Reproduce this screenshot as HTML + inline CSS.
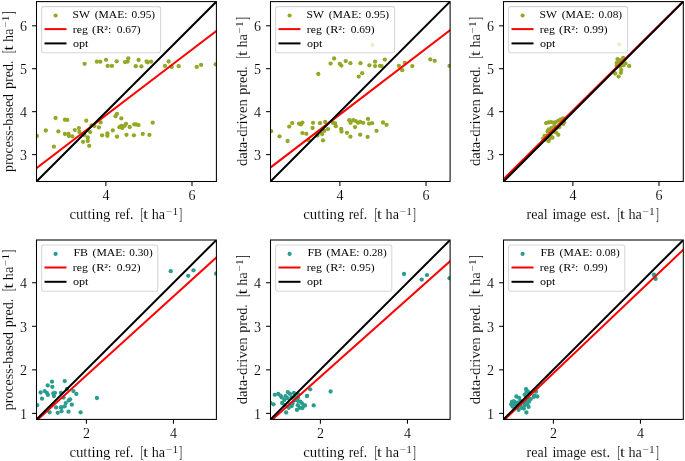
<!DOCTYPE html>
<html><head><meta charset="utf-8"><style>
html,body{margin:0;padding:0;background:#fff;width:685px;height:461px;overflow:hidden}
svg text{font-family:"Liberation Serif", serif;fill:#000;stroke:#fff;stroke-width:0.1px;paint-order:fill stroke}
svg{will-change:transform}
svg text.lg{stroke:none}
</style></head><body>
<svg width="685" height="461" viewBox="0 0 685 461" style="position:absolute;left:0;top:0">
<defs>
<clipPath id="c00"><rect x="36.5" y="1.6" width="179.90" height="179.90"/></clipPath>
<clipPath id="c01"><rect x="270.5" y="1.6" width="179.60" height="179.90"/></clipPath>
<clipPath id="c02"><rect x="503.5" y="1.6" width="179.80" height="179.90"/></clipPath>
<clipPath id="c10"><rect x="36.5" y="240.0" width="179.90" height="179.40"/></clipPath>
<clipPath id="c11"><rect x="270.5" y="240.0" width="179.60" height="179.40"/></clipPath>
<clipPath id="c12"><rect x="503.5" y="240.0" width="179.80" height="179.40"/></clipPath>
</defs>
<rect width="685" height="461" fill="#fff"/>
<g><g clip-path="url(#c00)" fill="#94a726"><circle cx="36.9" cy="135.9" r="2.15"/><circle cx="55.6" cy="118.0" r="2.15"/><circle cx="64.9" cy="119.7" r="2.15"/><circle cx="67.3" cy="119.9" r="2.15"/><circle cx="45.8" cy="130.5" r="2.15"/><circle cx="58.4" cy="131.4" r="2.15"/><circle cx="74.8" cy="130.1" r="2.15"/><circle cx="64.9" cy="134.0" r="2.15"/><circle cx="68.5" cy="134.0" r="2.15"/><circle cx="68.9" cy="136.0" r="2.15"/><circle cx="72.4" cy="136.4" r="2.15"/><circle cx="53.9" cy="146.7" r="2.15"/><circle cx="86.3" cy="120.7" r="2.15"/><circle cx="78.9" cy="128.1" r="2.15"/><circle cx="79.4" cy="132.0" r="2.15"/><circle cx="90.1" cy="132.1" r="2.15"/><circle cx="91.6" cy="125.3" r="2.15"/><circle cx="94.4" cy="126.0" r="2.15"/><circle cx="100.6" cy="122.4" r="2.15"/><circle cx="98.9" cy="127.4" r="2.15"/><circle cx="84.4" cy="135.0" r="2.15"/><circle cx="87.8" cy="137.5" r="2.15"/><circle cx="87.8" cy="141.0" r="2.15"/><circle cx="83.0" cy="141.8" r="2.15"/><circle cx="89.2" cy="145.8" r="2.15"/><circle cx="102.1" cy="135.3" r="2.15"/><circle cx="107.4" cy="133.4" r="2.15"/><circle cx="107.4" cy="135.8" r="2.15"/><circle cx="112.8" cy="130.4" r="2.15"/><circle cx="117.0" cy="113.8" r="2.15"/><circle cx="115.5" cy="116.2" r="2.15"/><circle cx="121.3" cy="118.4" r="2.15"/><circle cx="126.0" cy="123.8" r="2.15"/><circle cx="124.6" cy="125.8" r="2.15"/><circle cx="121.3" cy="125.8" r="2.15"/><circle cx="119.4" cy="127.2" r="2.15"/><circle cx="122.2" cy="128.1" r="2.15"/><circle cx="129.7" cy="127.0" r="2.15"/><circle cx="134.2" cy="124.3" r="2.15"/><circle cx="136.1" cy="124.5" r="2.15"/><circle cx="138.5" cy="125.1" r="2.15"/><circle cx="117.0" cy="136.7" r="2.15"/><circle cx="126.5" cy="134.8" r="2.15"/><circle cx="133.9" cy="135.3" r="2.15"/><circle cx="142.8" cy="133.9" r="2.15"/><circle cx="152.7" cy="122.7" r="2.15"/><circle cx="149.4" cy="134.9" r="2.15"/><circle cx="84.6" cy="63.8" r="2.15"/><circle cx="96.9" cy="61.7" r="2.15"/><circle cx="100.3" cy="61.7" r="2.15"/><circle cx="106.0" cy="59.8" r="2.15"/><circle cx="107.7" cy="65.9" r="2.15"/><circle cx="111.9" cy="65.9" r="2.15"/><circle cx="116.7" cy="61.3" r="2.15"/><circle cx="125.0" cy="62.1" r="2.15"/><circle cx="128.3" cy="58.3" r="2.15"/><circle cx="127.6" cy="61.5" r="2.15"/><circle cx="138.6" cy="60.0" r="2.15"/><circle cx="135.8" cy="66.2" r="2.15"/><circle cx="141.4" cy="66.4" r="2.15"/><circle cx="146.6" cy="61.5" r="2.15"/><circle cx="147.7" cy="62.3" r="2.15"/><circle cx="151.1" cy="61.7" r="2.15"/><circle cx="165.0" cy="65.9" r="2.15"/><circle cx="168.6" cy="61.5" r="2.15"/><circle cx="171.7" cy="66.9" r="2.15"/><circle cx="178.7" cy="66.2" r="2.15"/><circle cx="196.7" cy="66.9" r="2.15"/><circle cx="201.1" cy="64.9" r="2.15"/><circle cx="215.7" cy="64.3" r="2.15"/></g><g clip-path="url(#c00)"><line x1="34.50" y1="169.63" x2="218.40" y2="29.37" stroke="#ff0000" stroke-width="2.0"/><line x1="34.50" y1="183.50" x2="218.40" y2="-0.40" stroke="#000" stroke-width="2.0"/></g><rect x="36.5" y="1.6" width="179.90" height="179.90" fill="none" stroke="#000" stroke-width="1.05"/><line x1="32.10" y1="154.6" x2="36.5" y2="154.6" stroke="#000" stroke-width="1.05"/><text x="26.90" y="159.90" text-anchor="end" font-size="14">3</text><line x1="32.10" y1="111.66" x2="36.5" y2="111.66" stroke="#000" stroke-width="1.05"/><text x="26.90" y="116.96" text-anchor="end" font-size="14">4</text><line x1="32.10" y1="68.7" x2="36.5" y2="68.7" stroke="#000" stroke-width="1.05"/><text x="26.90" y="74.00" text-anchor="end" font-size="14">5</text><line x1="32.10" y1="25.8" x2="36.5" y2="25.8" stroke="#000" stroke-width="1.05"/><text x="26.90" y="31.10" text-anchor="end" font-size="14">6</text><line x1="105.90" y1="181.5" x2="105.90" y2="185.90" stroke="#000" stroke-width="1.05"/><text x="105.90" y="200.10" text-anchor="middle" font-size="14">4</text><line x1="192.00" y1="181.5" x2="192.00" y2="185.90" stroke="#000" stroke-width="1.05"/><text x="192.00" y="200.10" text-anchor="middle" font-size="14">6</text><text x="69.40" y="219.30" font-size="14.2" textLength="41.10" lengthAdjust="spacingAndGlyphs">cutting</text><text x="115.00" y="219.30" font-size="14.2" textLength="18.40" lengthAdjust="spacingAndGlyphs">ref.</text><text x="140.80" y="219.90" font-size="15.8" textLength="2.80" lengthAdjust="spacingAndGlyphs">[</text><text x="143.00" y="219.30" font-size="14.2" textLength="5.40" lengthAdjust="spacingAndGlyphs">t</text><text x="151.70" y="219.30" font-size="14.2" textLength="13.40" lengthAdjust="spacingAndGlyphs">ha</text><text x="165.90" y="215.40" font-size="10" textLength="12.30" lengthAdjust="spacingAndGlyphs">−1</text><text x="179.20" y="219.90" font-size="15.8" textLength="2.80" lengthAdjust="spacingAndGlyphs">]</text><g transform="translate(12.90,171.70) rotate(-90)"><text x="-0.30" y="0" font-size="14.2" textLength="78.00" lengthAdjust="spacingAndGlyphs">process-based</text><text x="82.60" y="0" font-size="14.2" textLength="28.60" lengthAdjust="spacingAndGlyphs">pred.</text><text x="118.80" y="0.6" font-size="15.8" textLength="2.80" lengthAdjust="spacingAndGlyphs">[</text><text x="121.00" y="0" font-size="14.2" textLength="5.40" lengthAdjust="spacingAndGlyphs">t</text><text x="129.70" y="0" font-size="14.2" textLength="13.40" lengthAdjust="spacingAndGlyphs">ha</text><text x="143.90" y="-3.9" font-size="10" textLength="12.30" lengthAdjust="spacingAndGlyphs">−1</text><text x="157.20" y="0.6" font-size="15.8" textLength="2.80" lengthAdjust="spacingAndGlyphs">]</text></g><rect x="41.60" y="6.60" width="119.0" height="46.2" rx="2.2" fill="#fff" fill-opacity="0.8" stroke="#cccccc" stroke-opacity="0.8" stroke-width="1.05"/><circle cx="55.60" cy="15.50" r="2.1" fill="#94a726"/><line x1="44.50" y1="29.10" x2="66.50" y2="29.10" stroke="#ff0000" stroke-width="2.0"/><line x1="44.50" y1="43.40" x2="66.50" y2="43.40" stroke="#000" stroke-width="2.0"/><text x="72.60" y="18.00" font-size="10.2" class="lg" textLength="17.40" lengthAdjust="spacingAndGlyphs">SW</text><text x="94.70" y="18.00" font-size="10.2" class="lg" textLength="32.90" lengthAdjust="spacingAndGlyphs">(MAE:</text><text x="131.50" y="18.00" font-size="10.2" class="lg" textLength="23.60" lengthAdjust="spacingAndGlyphs">0.95)</text><text x="72.80" y="32.80" font-size="10.2" class="lg" textLength="15.00" lengthAdjust="spacingAndGlyphs">reg</text><text x="92.10" y="32.80" font-size="10.2" class="lg" textLength="19.30" lengthAdjust="spacingAndGlyphs">(R²:</text><text x="116.70" y="32.80" font-size="10.2" class="lg" textLength="23.90" lengthAdjust="spacingAndGlyphs">0.67)</text><text x="73.00" y="46.70" font-size="10.2" class="lg" textLength="15.50" lengthAdjust="spacingAndGlyphs">opt</text></g>
<g><g clip-path="url(#c01)" fill="#94a726"><circle cx="271.1" cy="131.2" r="2.15"/><circle cx="279.5" cy="136.3" r="2.15"/><circle cx="287.6" cy="141.0" r="2.15"/><circle cx="289.2" cy="126.6" r="2.15"/><circle cx="292.2" cy="123.1" r="2.15"/><circle cx="299.1" cy="123.7" r="2.15"/><circle cx="300.9" cy="124.4" r="2.15"/><circle cx="302.4" cy="122.6" r="2.15"/><circle cx="302.4" cy="133.1" r="2.15"/><circle cx="306.3" cy="133.8" r="2.15"/><circle cx="313.0" cy="122.8" r="2.15"/><circle cx="312.6" cy="128.0" r="2.15"/><circle cx="320.0" cy="123.2" r="2.15"/><circle cx="325.2" cy="122.0" r="2.15"/><circle cx="327.9" cy="129.1" r="2.15"/><circle cx="322.1" cy="134.0" r="2.15"/><circle cx="317.5" cy="135.5" r="2.15"/><circle cx="323.0" cy="140.4" r="2.15"/><circle cx="308.6" cy="140.0" r="2.15"/><circle cx="324.3" cy="130.8" r="2.15"/><circle cx="333.0" cy="122.8" r="2.15"/><circle cx="335.1" cy="123.5" r="2.15"/><circle cx="335.8" cy="126.2" r="2.15"/><circle cx="341.2" cy="128.9" r="2.15"/><circle cx="341.5" cy="131.5" r="2.15"/><circle cx="347.0" cy="132.8" r="2.15"/><circle cx="350.4" cy="136.7" r="2.15"/><circle cx="349.3" cy="120.2" r="2.15"/><circle cx="350.6" cy="122.8" r="2.15"/><circle cx="353.2" cy="120.2" r="2.15"/><circle cx="355.8" cy="121.1" r="2.15"/><circle cx="358.0" cy="122.8" r="2.15"/><circle cx="360.2" cy="121.9" r="2.15"/><circle cx="363.2" cy="122.8" r="2.15"/><circle cx="355.0" cy="127.1" r="2.15"/><circle cx="368.0" cy="118.9" r="2.15"/><circle cx="369.1" cy="123.7" r="2.15"/><circle cx="372.1" cy="123.2" r="2.15"/><circle cx="360.2" cy="134.7" r="2.15"/><circle cx="367.6" cy="136.9" r="2.15"/><circle cx="376.5" cy="130.8" r="2.15"/><circle cx="383.0" cy="122.5" r="2.15"/><circle cx="386.5" cy="124.8" r="2.15"/><circle cx="318.3" cy="74.0" r="2.15"/><circle cx="330.6" cy="63.6" r="2.15"/><circle cx="334.1" cy="58.5" r="2.15"/><circle cx="339.8" cy="63.8" r="2.15"/><circle cx="341.3" cy="65.6" r="2.15"/><circle cx="345.7" cy="61.1" r="2.15"/><circle cx="350.4" cy="63.2" r="2.15"/><circle cx="358.7" cy="76.6" r="2.15"/><circle cx="360.5" cy="63.2" r="2.15"/><circle cx="362.2" cy="73.2" r="2.15"/><circle cx="369.4" cy="65.3" r="2.15"/><circle cx="375.1" cy="61.7" r="2.15"/><circle cx="375.1" cy="66.1" r="2.15"/><circle cx="380.0" cy="65.9" r="2.15"/><circle cx="381.6" cy="66.1" r="2.15"/><circle cx="384.8" cy="59.6" r="2.15"/><circle cx="398.9" cy="65.9" r="2.15"/><circle cx="402.2" cy="70.2" r="2.15"/><circle cx="404.8" cy="62.8" r="2.15"/><circle cx="412.3" cy="66.1" r="2.15"/><circle cx="430.3" cy="59.4" r="2.15"/><circle cx="434.7" cy="60.8" r="2.15"/><circle cx="449.5" cy="65.9" r="2.15"/><circle cx="372.5" cy="45.0" r="2.15"/></g><g clip-path="url(#c01)"><line x1="268.50" y1="169.03" x2="452.10" y2="28.57" stroke="#ff0000" stroke-width="2.0"/><line x1="268.50" y1="183.50" x2="452.10" y2="-0.40" stroke="#000" stroke-width="2.0"/></g><rect x="270.5" y="1.6" width="179.60" height="179.90" fill="none" stroke="#000" stroke-width="1.05"/><line x1="266.10" y1="154.6" x2="270.5" y2="154.6" stroke="#000" stroke-width="1.05"/><text x="260.90" y="159.90" text-anchor="end" font-size="14">3</text><line x1="266.10" y1="111.66" x2="270.5" y2="111.66" stroke="#000" stroke-width="1.05"/><text x="260.90" y="116.96" text-anchor="end" font-size="14">4</text><line x1="266.10" y1="68.7" x2="270.5" y2="68.7" stroke="#000" stroke-width="1.05"/><text x="260.90" y="74.00" text-anchor="end" font-size="14">5</text><line x1="266.10" y1="25.8" x2="270.5" y2="25.8" stroke="#000" stroke-width="1.05"/><text x="260.90" y="31.10" text-anchor="end" font-size="14">6</text><line x1="339.90" y1="181.5" x2="339.90" y2="185.90" stroke="#000" stroke-width="1.05"/><text x="339.90" y="200.10" text-anchor="middle" font-size="14">4</text><line x1="426.00" y1="181.5" x2="426.00" y2="185.90" stroke="#000" stroke-width="1.05"/><text x="426.00" y="200.10" text-anchor="middle" font-size="14">6</text><text x="303.25" y="219.30" font-size="14.2" textLength="41.10" lengthAdjust="spacingAndGlyphs">cutting</text><text x="348.85" y="219.30" font-size="14.2" textLength="18.40" lengthAdjust="spacingAndGlyphs">ref.</text><text x="374.65" y="219.90" font-size="15.8" textLength="2.80" lengthAdjust="spacingAndGlyphs">[</text><text x="376.85" y="219.30" font-size="14.2" textLength="5.40" lengthAdjust="spacingAndGlyphs">t</text><text x="385.55" y="219.30" font-size="14.2" textLength="13.40" lengthAdjust="spacingAndGlyphs">ha</text><text x="399.75" y="215.40" font-size="10" textLength="12.30" lengthAdjust="spacingAndGlyphs">−1</text><text x="413.05" y="219.90" font-size="15.8" textLength="2.80" lengthAdjust="spacingAndGlyphs">]</text><g transform="translate(246.90,165.80) rotate(-90)"><text x="-0.30" y="0" font-size="14.2" textLength="66.90" lengthAdjust="spacingAndGlyphs">data-driven</text><text x="71.10" y="0" font-size="14.2" textLength="28.60" lengthAdjust="spacingAndGlyphs">pred.</text><text x="107.30" y="0.6" font-size="15.8" textLength="2.80" lengthAdjust="spacingAndGlyphs">[</text><text x="109.50" y="0" font-size="14.2" textLength="5.40" lengthAdjust="spacingAndGlyphs">t</text><text x="118.20" y="0" font-size="14.2" textLength="13.40" lengthAdjust="spacingAndGlyphs">ha</text><text x="132.40" y="-3.9" font-size="10" textLength="12.30" lengthAdjust="spacingAndGlyphs">−1</text><text x="145.70" y="0.6" font-size="15.8" textLength="2.80" lengthAdjust="spacingAndGlyphs">]</text></g><rect x="275.60" y="6.60" width="119.0" height="46.2" rx="2.2" fill="#fff" fill-opacity="0.8" stroke="#cccccc" stroke-opacity="0.8" stroke-width="1.05"/><circle cx="289.60" cy="15.50" r="2.1" fill="#94a726"/><line x1="278.50" y1="29.10" x2="300.50" y2="29.10" stroke="#ff0000" stroke-width="2.0"/><line x1="278.50" y1="43.40" x2="300.50" y2="43.40" stroke="#000" stroke-width="2.0"/><text x="306.60" y="18.00" font-size="10.2" class="lg" textLength="17.40" lengthAdjust="spacingAndGlyphs">SW</text><text x="328.70" y="18.00" font-size="10.2" class="lg" textLength="32.90" lengthAdjust="spacingAndGlyphs">(MAE:</text><text x="365.50" y="18.00" font-size="10.2" class="lg" textLength="23.60" lengthAdjust="spacingAndGlyphs">0.95)</text><text x="306.80" y="32.80" font-size="10.2" class="lg" textLength="15.00" lengthAdjust="spacingAndGlyphs">reg</text><text x="326.10" y="32.80" font-size="10.2" class="lg" textLength="19.30" lengthAdjust="spacingAndGlyphs">(R²:</text><text x="350.70" y="32.80" font-size="10.2" class="lg" textLength="23.90" lengthAdjust="spacingAndGlyphs">0.69)</text><text x="307.00" y="46.70" font-size="10.2" class="lg" textLength="15.50" lengthAdjust="spacingAndGlyphs">opt</text></g>
<g><g clip-path="url(#c02)" fill="#94a726"><circle cx="546.1" cy="123.1" r="2.15"/><circle cx="548.6" cy="122.4" r="2.15"/><circle cx="551.0" cy="122.1" r="2.15"/><circle cx="553.4" cy="122.6" r="2.15"/><circle cx="555.9" cy="122.1" r="2.15"/><circle cx="558.3" cy="120.6" r="2.15"/><circle cx="560.8" cy="119.5" r="2.15"/><circle cx="563.2" cy="118.5" r="2.15"/><circle cx="564.2" cy="122.1" r="2.15"/><circle cx="563.2" cy="124.0" r="2.15"/><circle cx="559.3" cy="127.0" r="2.15"/><circle cx="556.9" cy="127.9" r="2.15"/><circle cx="554.4" cy="126.0" r="2.15"/><circle cx="551.5" cy="128.0" r="2.15"/><circle cx="548.6" cy="129.4" r="2.15"/><circle cx="547.6" cy="131.4" r="2.15"/><circle cx="550.5" cy="131.4" r="2.15"/><circle cx="553.4" cy="131.4" r="2.15"/><circle cx="555.9" cy="132.3" r="2.15"/><circle cx="558.3" cy="134.8" r="2.15"/><circle cx="544.6" cy="135.8" r="2.15"/><circle cx="547.1" cy="135.3" r="2.15"/><circle cx="551.0" cy="136.3" r="2.15"/><circle cx="552.5" cy="137.7" r="2.15"/><circle cx="549.5" cy="138.7" r="2.15"/><circle cx="548.6" cy="141.1" r="2.15"/><circle cx="545.6" cy="139.7" r="2.15"/><circle cx="543.2" cy="138.7" r="2.15"/><circle cx="617.5" cy="59.1" r="2.15"/><circle cx="620.1" cy="60.2" r="2.15"/><circle cx="623.2" cy="58.0" r="2.15"/><circle cx="624.3" cy="59.5" r="2.15"/><circle cx="616.7" cy="62.9" r="2.15"/><circle cx="618.6" cy="62.1" r="2.15"/><circle cx="622.0" cy="63.3" r="2.15"/><circle cx="625.4" cy="63.3" r="2.15"/><circle cx="623.5" cy="65.2" r="2.15"/><circle cx="620.1" cy="66.7" r="2.15"/><circle cx="616.7" cy="65.9" r="2.15"/><circle cx="629.2" cy="65.9" r="2.15"/><circle cx="621.3" cy="70.1" r="2.15"/><circle cx="620.9" cy="72.8" r="2.15"/><circle cx="615.2" cy="73.5" r="2.15"/><circle cx="618.6" cy="76.6" r="2.15"/><circle cx="619.2" cy="44.4" r="2.15"/></g><g clip-path="url(#c02)"><line x1="501.50" y1="181.18" x2="685.30" y2="-0.68" stroke="#ff0000" stroke-width="2.0"/><line x1="501.50" y1="183.50" x2="685.30" y2="-0.40" stroke="#000" stroke-width="2.0"/></g><rect x="503.5" y="1.6" width="179.80" height="179.90" fill="none" stroke="#000" stroke-width="1.05"/><line x1="499.10" y1="154.6" x2="503.5" y2="154.6" stroke="#000" stroke-width="1.05"/><text x="493.90" y="159.90" text-anchor="end" font-size="14">3</text><line x1="499.10" y1="111.66" x2="503.5" y2="111.66" stroke="#000" stroke-width="1.05"/><text x="493.90" y="116.96" text-anchor="end" font-size="14">4</text><line x1="499.10" y1="68.7" x2="503.5" y2="68.7" stroke="#000" stroke-width="1.05"/><text x="493.90" y="74.00" text-anchor="end" font-size="14">5</text><line x1="499.10" y1="25.8" x2="503.5" y2="25.8" stroke="#000" stroke-width="1.05"/><text x="493.90" y="31.10" text-anchor="end" font-size="14">6</text><line x1="572.90" y1="181.5" x2="572.90" y2="185.90" stroke="#000" stroke-width="1.05"/><text x="572.90" y="200.10" text-anchor="middle" font-size="14">4</text><line x1="659.00" y1="181.5" x2="659.00" y2="185.90" stroke="#000" stroke-width="1.05"/><text x="659.00" y="200.10" text-anchor="middle" font-size="14">6</text><text x="526.60" y="219.30" font-size="14.2" textLength="21.00" lengthAdjust="spacingAndGlyphs">real</text><text x="552.40" y="219.30" font-size="14.2" textLength="33.80" lengthAdjust="spacingAndGlyphs">image</text><text x="590.40" y="219.30" font-size="14.2" textLength="19.80" lengthAdjust="spacingAndGlyphs">est.</text><text x="617.50" y="219.90" font-size="15.8" textLength="2.80" lengthAdjust="spacingAndGlyphs">[</text><text x="619.70" y="219.30" font-size="14.2" textLength="5.40" lengthAdjust="spacingAndGlyphs">t</text><text x="628.40" y="219.30" font-size="14.2" textLength="13.40" lengthAdjust="spacingAndGlyphs">ha</text><text x="642.60" y="215.40" font-size="10" textLength="12.30" lengthAdjust="spacingAndGlyphs">−1</text><text x="655.90" y="219.90" font-size="15.8" textLength="2.80" lengthAdjust="spacingAndGlyphs">]</text><g transform="translate(479.90,165.80) rotate(-90)"><text x="-0.30" y="0" font-size="14.2" textLength="66.90" lengthAdjust="spacingAndGlyphs">data-driven</text><text x="71.10" y="0" font-size="14.2" textLength="28.60" lengthAdjust="spacingAndGlyphs">pred.</text><text x="107.30" y="0.6" font-size="15.8" textLength="2.80" lengthAdjust="spacingAndGlyphs">[</text><text x="109.50" y="0" font-size="14.2" textLength="5.40" lengthAdjust="spacingAndGlyphs">t</text><text x="118.20" y="0" font-size="14.2" textLength="13.40" lengthAdjust="spacingAndGlyphs">ha</text><text x="132.40" y="-3.9" font-size="10" textLength="12.30" lengthAdjust="spacingAndGlyphs">−1</text><text x="145.70" y="0.6" font-size="15.8" textLength="2.80" lengthAdjust="spacingAndGlyphs">]</text></g><rect x="508.60" y="6.60" width="119.0" height="46.2" rx="2.2" fill="#fff" fill-opacity="0.8" stroke="#cccccc" stroke-opacity="0.8" stroke-width="1.05"/><circle cx="522.60" cy="15.50" r="2.1" fill="#94a726"/><line x1="511.50" y1="29.10" x2="533.50" y2="29.10" stroke="#ff0000" stroke-width="2.0"/><line x1="511.50" y1="43.40" x2="533.50" y2="43.40" stroke="#000" stroke-width="2.0"/><text x="539.60" y="18.00" font-size="10.2" class="lg" textLength="17.40" lengthAdjust="spacingAndGlyphs">SW</text><text x="561.70" y="18.00" font-size="10.2" class="lg" textLength="32.90" lengthAdjust="spacingAndGlyphs">(MAE:</text><text x="598.50" y="18.00" font-size="10.2" class="lg" textLength="23.60" lengthAdjust="spacingAndGlyphs">0.08)</text><text x="539.80" y="32.80" font-size="10.2" class="lg" textLength="15.00" lengthAdjust="spacingAndGlyphs">reg</text><text x="559.10" y="32.80" font-size="10.2" class="lg" textLength="19.30" lengthAdjust="spacingAndGlyphs">(R²:</text><text x="583.70" y="32.80" font-size="10.2" class="lg" textLength="23.90" lengthAdjust="spacingAndGlyphs">0.99)</text><text x="540.00" y="46.70" font-size="10.2" class="lg" textLength="15.50" lengthAdjust="spacingAndGlyphs">opt</text></g>
<g><g clip-path="url(#c10)" fill="#2a9d8f"><circle cx="52.0" cy="381.7" r="2.15"/><circle cx="47.7" cy="385.4" r="2.15"/><circle cx="52.3" cy="386.8" r="2.15"/><circle cx="64.7" cy="381.1" r="2.15"/><circle cx="40.6" cy="392.5" r="2.15"/><circle cx="44.7" cy="391.1" r="2.15"/><circle cx="46.8" cy="392.8" r="2.15"/><circle cx="47.9" cy="394.9" r="2.15"/><circle cx="53.3" cy="393.3" r="2.15"/><circle cx="55.0" cy="392.8" r="2.15"/><circle cx="53.9" cy="396.0" r="2.15"/><circle cx="60.9" cy="392.8" r="2.15"/><circle cx="66.9" cy="389.0" r="2.15"/><circle cx="42.0" cy="398.7" r="2.15"/><circle cx="63.6" cy="397.6" r="2.15"/><circle cx="70.1" cy="399.3" r="2.15"/><circle cx="37.1" cy="405.2" r="2.15"/><circle cx="65.8" cy="403.1" r="2.15"/><circle cx="71.8" cy="404.7" r="2.15"/><circle cx="56.1" cy="407.4" r="2.15"/><circle cx="60.9" cy="407.4" r="2.15"/><circle cx="64.7" cy="406.3" r="2.15"/><circle cx="49.6" cy="412.3" r="2.15"/><circle cx="57.7" cy="412.8" r="2.15"/><circle cx="61.5" cy="411.2" r="2.15"/><circle cx="68.5" cy="411.7" r="2.15"/><circle cx="73.4" cy="391.1" r="2.15"/><circle cx="76.3" cy="393.9" r="2.15"/><circle cx="68.7" cy="400.4" r="2.15"/><circle cx="61.6" cy="407.4" r="2.15"/><circle cx="80.6" cy="412.3" r="2.15"/><circle cx="96.9" cy="398.0" r="2.15"/><circle cx="170.7" cy="271.2" r="2.15"/><circle cx="193.5" cy="270.3" r="2.15"/><circle cx="188.2" cy="275.8" r="2.15"/><circle cx="216.1" cy="273.7" r="2.15"/></g><g clip-path="url(#c10)"><line x1="34.50" y1="422.46" x2="218.40" y2="255.69" stroke="#ff0000" stroke-width="2.0"/><line x1="34.50" y1="421.39" x2="218.40" y2="238.01" stroke="#000" stroke-width="2.0"/></g><rect x="36.5" y="240.0" width="179.90" height="179.40" fill="none" stroke="#000" stroke-width="1.05"/><line x1="32.10" y1="413.4" x2="36.5" y2="413.4" stroke="#000" stroke-width="1.05"/><text x="26.90" y="418.70" text-anchor="end" font-size="14">1</text><line x1="32.10" y1="369.85" x2="36.5" y2="369.85" stroke="#000" stroke-width="1.05"/><text x="26.90" y="375.15" text-anchor="end" font-size="14">2</text><line x1="32.10" y1="326.3" x2="36.5" y2="326.3" stroke="#000" stroke-width="1.05"/><text x="26.90" y="331.60" text-anchor="end" font-size="14">3</text><line x1="32.10" y1="282.74" x2="36.5" y2="282.74" stroke="#000" stroke-width="1.05"/><text x="26.90" y="288.04" text-anchor="end" font-size="14">4</text><line x1="86.40" y1="419.4" x2="86.40" y2="423.80" stroke="#000" stroke-width="1.05"/><text x="86.40" y="438.00" text-anchor="middle" font-size="14">2</text><line x1="173.45" y1="419.4" x2="173.45" y2="423.80" stroke="#000" stroke-width="1.05"/><text x="173.45" y="438.00" text-anchor="middle" font-size="14">4</text><text x="69.40" y="457.20" font-size="14.2" textLength="41.10" lengthAdjust="spacingAndGlyphs">cutting</text><text x="115.00" y="457.20" font-size="14.2" textLength="18.40" lengthAdjust="spacingAndGlyphs">ref.</text><text x="140.80" y="457.80" font-size="15.8" textLength="2.80" lengthAdjust="spacingAndGlyphs">[</text><text x="143.00" y="457.20" font-size="14.2" textLength="5.40" lengthAdjust="spacingAndGlyphs">t</text><text x="151.70" y="457.20" font-size="14.2" textLength="13.40" lengthAdjust="spacingAndGlyphs">ha</text><text x="165.90" y="453.30" font-size="10" textLength="12.30" lengthAdjust="spacingAndGlyphs">−1</text><text x="179.20" y="457.80" font-size="15.8" textLength="2.80" lengthAdjust="spacingAndGlyphs">]</text><g transform="translate(12.90,409.85) rotate(-90)"><text x="-0.30" y="0" font-size="14.2" textLength="78.00" lengthAdjust="spacingAndGlyphs">process-based</text><text x="82.60" y="0" font-size="14.2" textLength="28.60" lengthAdjust="spacingAndGlyphs">pred.</text><text x="118.80" y="0.6" font-size="15.8" textLength="2.80" lengthAdjust="spacingAndGlyphs">[</text><text x="121.00" y="0" font-size="14.2" textLength="5.40" lengthAdjust="spacingAndGlyphs">t</text><text x="129.70" y="0" font-size="14.2" textLength="13.40" lengthAdjust="spacingAndGlyphs">ha</text><text x="143.90" y="-3.9" font-size="10" textLength="12.30" lengthAdjust="spacingAndGlyphs">−1</text><text x="157.20" y="0.6" font-size="15.8" textLength="2.80" lengthAdjust="spacingAndGlyphs">]</text></g><rect x="41.60" y="245.00" width="116.2" height="46.2" rx="2.2" fill="#fff" fill-opacity="0.8" stroke="#cccccc" stroke-opacity="0.8" stroke-width="1.05"/><circle cx="55.60" cy="253.90" r="2.1" fill="#2a9d8f"/><line x1="44.50" y1="267.50" x2="66.50" y2="267.50" stroke="#ff0000" stroke-width="2.0"/><line x1="44.50" y1="281.80" x2="66.50" y2="281.80" stroke="#000" stroke-width="2.0"/><text x="73.40" y="256.40" font-size="10.2" class="lg" textLength="14.60" lengthAdjust="spacingAndGlyphs">FB</text><text x="92.60" y="256.40" font-size="10.2" class="lg" textLength="33.00" lengthAdjust="spacingAndGlyphs">(MAE:</text><text x="129.30" y="256.40" font-size="10.2" class="lg" textLength="23.40" lengthAdjust="spacingAndGlyphs">0.30)</text><text x="72.80" y="271.20" font-size="10.2" class="lg" textLength="15.00" lengthAdjust="spacingAndGlyphs">reg</text><text x="92.10" y="271.20" font-size="10.2" class="lg" textLength="19.30" lengthAdjust="spacingAndGlyphs">(R²:</text><text x="116.70" y="271.20" font-size="10.2" class="lg" textLength="23.90" lengthAdjust="spacingAndGlyphs">0.92)</text><text x="73.00" y="285.10" font-size="10.2" class="lg" textLength="15.50" lengthAdjust="spacingAndGlyphs">opt</text></g>
<g><g clip-path="url(#c11)" fill="#2a9d8f"><circle cx="274.8" cy="394.8" r="2.15"/><circle cx="278.2" cy="393.9" r="2.15"/><circle cx="280.4" cy="395.6" r="2.15"/><circle cx="281.7" cy="397.4" r="2.15"/><circle cx="287.8" cy="392.1" r="2.15"/><circle cx="285.6" cy="396.1" r="2.15"/><circle cx="287.4" cy="398.2" r="2.15"/><circle cx="284.3" cy="400.0" r="2.15"/><circle cx="282.1" cy="403.0" r="2.15"/><circle cx="273.5" cy="404.3" r="2.15"/><circle cx="270.4" cy="403.0" r="2.15"/><circle cx="293.9" cy="393.0" r="2.15"/><circle cx="298.2" cy="394.3" r="2.15"/><circle cx="296.0" cy="397.4" r="2.15"/><circle cx="294.3" cy="400.4" r="2.15"/><circle cx="297.8" cy="400.8" r="2.15"/><circle cx="300.4" cy="401.7" r="2.15"/><circle cx="302.1" cy="403.4" r="2.15"/><circle cx="304.3" cy="405.6" r="2.15"/><circle cx="302.1" cy="407.8" r="2.15"/><circle cx="296.9" cy="409.9" r="2.15"/><circle cx="291.7" cy="406.0" r="2.15"/><circle cx="288.7" cy="407.8" r="2.15"/><circle cx="286.1" cy="412.5" r="2.15"/><circle cx="306.9" cy="396.1" r="2.15"/><circle cx="292.6" cy="403.4" r="2.15"/><circle cx="310.2" cy="389.3" r="2.15"/><circle cx="307.1" cy="395.8" r="2.15"/><circle cx="330.6" cy="391.5" r="2.15"/><circle cx="313.7" cy="405.4" r="2.15"/><circle cx="305.0" cy="405.4" r="2.15"/><circle cx="302.4" cy="408.0" r="2.15"/><circle cx="298.0" cy="397.6" r="2.15"/><circle cx="290.0" cy="404.3" r="2.15"/><circle cx="297.8" cy="405.2" r="2.15"/><circle cx="291.7" cy="397.4" r="2.15"/><circle cx="290.0" cy="393.9" r="2.15"/><circle cx="299.5" cy="407.8" r="2.15"/><circle cx="284.8" cy="405.2" r="2.15"/><circle cx="404.0" cy="274.0" r="2.15"/><circle cx="427.0" cy="275.1" r="2.15"/><circle cx="421.7" cy="279.7" r="2.15"/><circle cx="449.5" cy="278.2" r="2.15"/></g><g clip-path="url(#c11)"><line x1="268.50" y1="422.98" x2="452.10" y2="259.45" stroke="#ff0000" stroke-width="2.0"/><line x1="268.50" y1="421.40" x2="452.10" y2="238.00" stroke="#000" stroke-width="2.0"/></g><rect x="270.5" y="240.0" width="179.60" height="179.40" fill="none" stroke="#000" stroke-width="1.05"/><line x1="266.10" y1="413.4" x2="270.5" y2="413.4" stroke="#000" stroke-width="1.05"/><text x="260.90" y="418.70" text-anchor="end" font-size="14">1</text><line x1="266.10" y1="369.85" x2="270.5" y2="369.85" stroke="#000" stroke-width="1.05"/><text x="260.90" y="375.15" text-anchor="end" font-size="14">2</text><line x1="266.10" y1="326.3" x2="270.5" y2="326.3" stroke="#000" stroke-width="1.05"/><text x="260.90" y="331.60" text-anchor="end" font-size="14">3</text><line x1="266.10" y1="282.74" x2="270.5" y2="282.74" stroke="#000" stroke-width="1.05"/><text x="260.90" y="288.04" text-anchor="end" font-size="14">4</text><line x1="320.40" y1="419.4" x2="320.40" y2="423.80" stroke="#000" stroke-width="1.05"/><text x="320.40" y="438.00" text-anchor="middle" font-size="14">2</text><line x1="407.45" y1="419.4" x2="407.45" y2="423.80" stroke="#000" stroke-width="1.05"/><text x="407.45" y="438.00" text-anchor="middle" font-size="14">4</text><text x="303.25" y="457.20" font-size="14.2" textLength="41.10" lengthAdjust="spacingAndGlyphs">cutting</text><text x="348.85" y="457.20" font-size="14.2" textLength="18.40" lengthAdjust="spacingAndGlyphs">ref.</text><text x="374.65" y="457.80" font-size="15.8" textLength="2.80" lengthAdjust="spacingAndGlyphs">[</text><text x="376.85" y="457.20" font-size="14.2" textLength="5.40" lengthAdjust="spacingAndGlyphs">t</text><text x="385.55" y="457.20" font-size="14.2" textLength="13.40" lengthAdjust="spacingAndGlyphs">ha</text><text x="399.75" y="453.30" font-size="10" textLength="12.30" lengthAdjust="spacingAndGlyphs">−1</text><text x="413.05" y="457.80" font-size="15.8" textLength="2.80" lengthAdjust="spacingAndGlyphs">]</text><g transform="translate(246.90,403.95) rotate(-90)"><text x="-0.30" y="0" font-size="14.2" textLength="66.90" lengthAdjust="spacingAndGlyphs">data-driven</text><text x="71.10" y="0" font-size="14.2" textLength="28.60" lengthAdjust="spacingAndGlyphs">pred.</text><text x="107.30" y="0.6" font-size="15.8" textLength="2.80" lengthAdjust="spacingAndGlyphs">[</text><text x="109.50" y="0" font-size="14.2" textLength="5.40" lengthAdjust="spacingAndGlyphs">t</text><text x="118.20" y="0" font-size="14.2" textLength="13.40" lengthAdjust="spacingAndGlyphs">ha</text><text x="132.40" y="-3.9" font-size="10" textLength="12.30" lengthAdjust="spacingAndGlyphs">−1</text><text x="145.70" y="0.6" font-size="15.8" textLength="2.80" lengthAdjust="spacingAndGlyphs">]</text></g><rect x="275.60" y="245.00" width="116.2" height="46.2" rx="2.2" fill="#fff" fill-opacity="0.8" stroke="#cccccc" stroke-opacity="0.8" stroke-width="1.05"/><circle cx="289.60" cy="253.90" r="2.1" fill="#2a9d8f"/><line x1="278.50" y1="267.50" x2="300.50" y2="267.50" stroke="#ff0000" stroke-width="2.0"/><line x1="278.50" y1="281.80" x2="300.50" y2="281.80" stroke="#000" stroke-width="2.0"/><text x="307.40" y="256.40" font-size="10.2" class="lg" textLength="14.60" lengthAdjust="spacingAndGlyphs">FB</text><text x="326.60" y="256.40" font-size="10.2" class="lg" textLength="33.00" lengthAdjust="spacingAndGlyphs">(MAE:</text><text x="363.30" y="256.40" font-size="10.2" class="lg" textLength="23.40" lengthAdjust="spacingAndGlyphs">0.28)</text><text x="306.80" y="271.20" font-size="10.2" class="lg" textLength="15.00" lengthAdjust="spacingAndGlyphs">reg</text><text x="326.10" y="271.20" font-size="10.2" class="lg" textLength="19.30" lengthAdjust="spacingAndGlyphs">(R²:</text><text x="350.70" y="271.20" font-size="10.2" class="lg" textLength="23.90" lengthAdjust="spacingAndGlyphs">0.95)</text><text x="307.00" y="285.10" font-size="10.2" class="lg" textLength="15.50" lengthAdjust="spacingAndGlyphs">opt</text></g>
<g><g clip-path="url(#c12)" fill="#2a9d8f"><circle cx="526.0" cy="389.1" r="2.15"/><circle cx="526.4" cy="392.1" r="2.15"/><circle cx="524.7" cy="394.8" r="2.15"/><circle cx="536.0" cy="391.7" r="2.15"/><circle cx="537.3" cy="396.5" r="2.15"/><circle cx="533.8" cy="396.9" r="2.15"/><circle cx="530.8" cy="399.1" r="2.15"/><circle cx="516.4" cy="396.5" r="2.15"/><circle cx="519.1" cy="397.8" r="2.15"/><circle cx="513.4" cy="401.3" r="2.15"/><circle cx="511.2" cy="404.3" r="2.15"/><circle cx="515.1" cy="404.3" r="2.15"/><circle cx="512.5" cy="406.5" r="2.15"/><circle cx="517.3" cy="407.3" r="2.15"/><circle cx="518.6" cy="409.9" r="2.15"/><circle cx="521.7" cy="407.8" r="2.15"/><circle cx="524.7" cy="405.2" r="2.15"/><circle cx="527.3" cy="404.3" r="2.15"/><circle cx="529.0" cy="401.7" r="2.15"/><circle cx="528.6" cy="406.9" r="2.15"/><circle cx="523.8" cy="408.6" r="2.15"/><circle cx="526.4" cy="412.5" r="2.15"/><circle cx="521.7" cy="402.6" r="2.15"/><circle cx="525.6" cy="400.4" r="2.15"/><circle cx="514.3" cy="401.7" r="2.15"/><circle cx="517.2" cy="402.6" r="2.15"/><circle cx="520.4" cy="400.8" r="2.15"/><circle cx="523.8" cy="402.6" r="2.15"/><circle cx="526.4" cy="400.8" r="2.15"/><circle cx="528.6" cy="399.1" r="2.15"/><circle cx="520.4" cy="405.6" r="2.15"/><circle cx="527.8" cy="391.5" r="2.15"/><circle cx="529.5" cy="394.0" r="2.15"/><circle cx="534.6" cy="395.6" r="2.15"/><circle cx="512.0" cy="402.0" r="2.15"/><circle cx="654.0" cy="274.6" r="2.15"/><circle cx="655.6" cy="278.9" r="2.15"/><circle cx="654.6" cy="276.6" r="2.15"/></g><g clip-path="url(#c12)"><line x1="501.50" y1="422.53" x2="685.30" y2="247.81" stroke="#ff0000" stroke-width="2.0"/><line x1="501.50" y1="421.40" x2="685.30" y2="238.00" stroke="#000" stroke-width="2.0"/></g><rect x="503.5" y="240.0" width="179.80" height="179.40" fill="none" stroke="#000" stroke-width="1.05"/><line x1="499.10" y1="413.4" x2="503.5" y2="413.4" stroke="#000" stroke-width="1.05"/><text x="493.90" y="418.70" text-anchor="end" font-size="14">1</text><line x1="499.10" y1="369.85" x2="503.5" y2="369.85" stroke="#000" stroke-width="1.05"/><text x="493.90" y="375.15" text-anchor="end" font-size="14">2</text><line x1="499.10" y1="326.3" x2="503.5" y2="326.3" stroke="#000" stroke-width="1.05"/><text x="493.90" y="331.60" text-anchor="end" font-size="14">3</text><line x1="499.10" y1="282.74" x2="503.5" y2="282.74" stroke="#000" stroke-width="1.05"/><text x="493.90" y="288.04" text-anchor="end" font-size="14">4</text><line x1="553.40" y1="419.4" x2="553.40" y2="423.80" stroke="#000" stroke-width="1.05"/><text x="553.40" y="438.00" text-anchor="middle" font-size="14">2</text><line x1="640.45" y1="419.4" x2="640.45" y2="423.80" stroke="#000" stroke-width="1.05"/><text x="640.45" y="438.00" text-anchor="middle" font-size="14">4</text><text x="526.60" y="457.20" font-size="14.2" textLength="21.00" lengthAdjust="spacingAndGlyphs">real</text><text x="552.40" y="457.20" font-size="14.2" textLength="33.80" lengthAdjust="spacingAndGlyphs">image</text><text x="590.40" y="457.20" font-size="14.2" textLength="19.80" lengthAdjust="spacingAndGlyphs">est.</text><text x="617.50" y="457.80" font-size="15.8" textLength="2.80" lengthAdjust="spacingAndGlyphs">[</text><text x="619.70" y="457.20" font-size="14.2" textLength="5.40" lengthAdjust="spacingAndGlyphs">t</text><text x="628.40" y="457.20" font-size="14.2" textLength="13.40" lengthAdjust="spacingAndGlyphs">ha</text><text x="642.60" y="453.30" font-size="10" textLength="12.30" lengthAdjust="spacingAndGlyphs">−1</text><text x="655.90" y="457.80" font-size="15.8" textLength="2.80" lengthAdjust="spacingAndGlyphs">]</text><g transform="translate(479.90,403.95) rotate(-90)"><text x="-0.30" y="0" font-size="14.2" textLength="66.90" lengthAdjust="spacingAndGlyphs">data-driven</text><text x="71.10" y="0" font-size="14.2" textLength="28.60" lengthAdjust="spacingAndGlyphs">pred.</text><text x="107.30" y="0.6" font-size="15.8" textLength="2.80" lengthAdjust="spacingAndGlyphs">[</text><text x="109.50" y="0" font-size="14.2" textLength="5.40" lengthAdjust="spacingAndGlyphs">t</text><text x="118.20" y="0" font-size="14.2" textLength="13.40" lengthAdjust="spacingAndGlyphs">ha</text><text x="132.40" y="-3.9" font-size="10" textLength="12.30" lengthAdjust="spacingAndGlyphs">−1</text><text x="145.70" y="0.6" font-size="15.8" textLength="2.80" lengthAdjust="spacingAndGlyphs">]</text></g><rect x="508.60" y="245.00" width="116.2" height="46.2" rx="2.2" fill="#fff" fill-opacity="0.8" stroke="#cccccc" stroke-opacity="0.8" stroke-width="1.05"/><circle cx="522.60" cy="253.90" r="2.1" fill="#2a9d8f"/><line x1="511.50" y1="267.50" x2="533.50" y2="267.50" stroke="#ff0000" stroke-width="2.0"/><line x1="511.50" y1="281.80" x2="533.50" y2="281.80" stroke="#000" stroke-width="2.0"/><text x="540.40" y="256.40" font-size="10.2" class="lg" textLength="14.60" lengthAdjust="spacingAndGlyphs">FB</text><text x="559.60" y="256.40" font-size="10.2" class="lg" textLength="33.00" lengthAdjust="spacingAndGlyphs">(MAE:</text><text x="596.30" y="256.40" font-size="10.2" class="lg" textLength="23.40" lengthAdjust="spacingAndGlyphs">0.08)</text><text x="539.80" y="271.20" font-size="10.2" class="lg" textLength="15.00" lengthAdjust="spacingAndGlyphs">reg</text><text x="559.10" y="271.20" font-size="10.2" class="lg" textLength="19.30" lengthAdjust="spacingAndGlyphs">(R²:</text><text x="583.70" y="271.20" font-size="10.2" class="lg" textLength="23.90" lengthAdjust="spacingAndGlyphs">0.99)</text><text x="540.00" y="285.10" font-size="10.2" class="lg" textLength="15.50" lengthAdjust="spacingAndGlyphs">opt</text></g>
</svg>
</body></html>
